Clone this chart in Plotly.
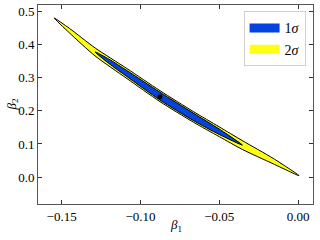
import plotly.graph_objects as go

# 2-sigma contour (outer): upper edge then lower edge
sig2_x = [-0.1548, -0.1450, -0.1288, -0.1086, -0.0876, -0.0665, -0.0500, -0.0353, -0.0158, 0.0007,
          -0.0158, -0.0353, -0.0500, -0.0665, -0.0876, -0.1086, -0.1288, -0.1450, -0.1548]
sig2_y = [0.4814, 0.4496, 0.3907, 0.3283, 0.2613, 0.1983, 0.1518, 0.1100, 0.0565, 0.0040,
          0.0401, 0.0834, 0.1222, 0.1663, 0.2281, 0.2981, 0.3665, 0.4358, 0.4814]

# 1-sigma contour (inner)
sig1_x = [-0.1288, -0.1200, -0.1086, -0.0876, -0.0665, -0.0500, -0.0353,
          -0.0500, -0.0665, -0.0876, -0.1086, -0.1200, -0.1288]
sig1_y = [0.3786, 0.3567, 0.3223, 0.2565, 0.1935, 0.1452, 0.0967,
          0.1288, 0.1711, 0.2329, 0.3041, 0.3435, 0.3786]

# best-fit point
best_x = [-0.0876]
best_y = [0.2426]

x_ticks = [-0.15, -0.10, -0.05, 0.00]
x_ticklabels = ["\u22120.15", "\u22120.10", "\u22120.05", "0.00"]
y_ticks = [0.0, 0.1, 0.2, 0.3, 0.4, 0.5]
y_ticklabels = ["0.0", "0.1", "0.2", "0.3", "0.4", "0.5"]

BLUE = "#0343df"
YELLOW = "#ffff14"
SERIF = "Liberation Serif, Times New Roman, serif"

fig = go.Figure()
fig.add_trace(go.Scatter(x=sig2_x, y=sig2_y, mode="lines", fill="toself",
                         fillcolor=YELLOW, line=dict(color="black", width=1, shape="spline", smoothing=0.7),
                         showlegend=False, hoverinfo="skip"))
fig.add_trace(go.Scatter(x=sig1_x, y=sig1_y, mode="lines", fill="toself",
                         fillcolor=BLUE, line=dict(color="black", width=1, shape="spline", smoothing=0.7),
                         showlegend=False, hoverinfo="skip"))
fig.add_trace(go.Scatter(x=best_x, y=best_y, mode="markers",
                         marker=dict(color="black", size=5), showlegend=False))
# legend-only entries
fig.add_trace(go.Scatter(x=[None], y=[None], mode="lines",
                         line=dict(color=BLUE, width=9), name="1<i>σ</i>"))
fig.add_trace(go.Scatter(x=[None], y=[None], mode="lines",
                         line=dict(color=YELLOW, width=9), name="2<i>σ</i>"))

axis_common = dict(showgrid=False, zeroline=False, ticks="inside", ticklen=4, tickwidth=1,
                   tickcolor="#333", showline=True, linecolor="#555", linewidth=1, mirror="ticks",
                   tickfont=dict(family=SERIF, size=13, color="black"))

fig.update_xaxes(range=[-0.165, 0.0095], tickvals=x_ticks, ticktext=x_ticklabels, **axis_common)
fig.update_yaxes(range=[-0.0816, 0.5205], tickvals=y_ticks, ticktext=y_ticklabels, **axis_common)

fig.add_annotation(text="<i>β</i><sub>1</sub>", xref="paper", yref="paper", x=0.5, y=0,
                   xanchor="center", yanchor="top", yshift=-11, showarrow=False,
                   font=dict(family=SERIF, size=13, color="black"))
fig.add_annotation(text="<i>β</i><sub>2</sub>", xref="paper", yref="paper", x=0, y=0.5,
                   xanchor="center", yanchor="middle", xshift=-26, textangle=-90, showarrow=False,
                   font=dict(family=SERIF, size=13, color="black"))

fig.update_layout(width=320, height=240, margin=dict(l=38, r=7, t=5, b=36),
                  plot_bgcolor="white", paper_bgcolor="white",
                  legend=dict(x=0.973, y=0.968, xanchor="right", yanchor="top",
                              bgcolor="white", bordercolor="#d0d0d0", borderwidth=1,
                              font=dict(family=SERIF, size=14, color="black"),
                              tracegroupgap=4, itemwidth=30))

fig.write_html("out.html", config={"displayModeBar": False},
               post_script="document.body.style.margin='0px';")
